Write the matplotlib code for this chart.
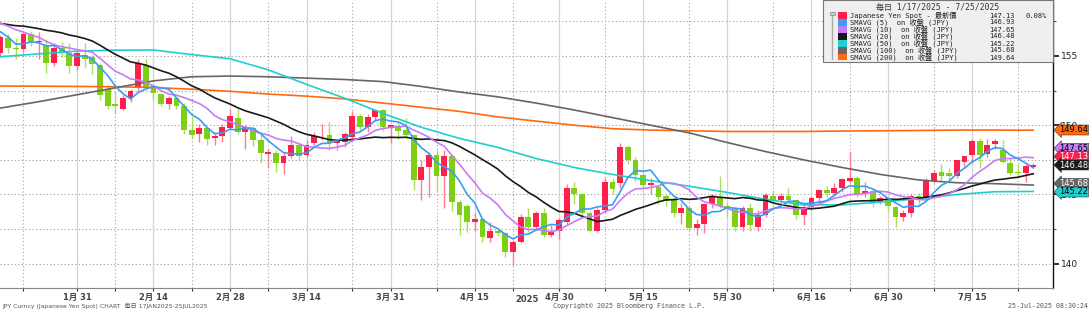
import numpy as np
import pandas as pd
import matplotlib
matplotlib.use('Agg')
import matplotlib.pyplot as plt
from matplotlib.patches import Rectangle

# ---------------- data ----------------
dates = pd.bdate_range('2025-01-17', '2025-07-25')

opens = [155.2, 156.3, 155.6, 155.5, 156.6, 156.0, 155.8, 154.5, 155.6, 155.2,
         154.3, 155.1, 154.9, 154.35, 152.6, 151.5, 151.2, 152.0, 152.7, 154.35,
         152.7, 152.25, 151.5, 152.0, 151.4, 149.65, 149.4, 149.8, 149.1, 149.2,
         149.8, 150.5, 149.5, 149.8, 148.95, 147.95, 148.0, 147.3, 147.8, 148.6,
         147.85, 148.7, 149.2, 149.3, 148.7, 148.8, 149.15, 150.7, 149.9, 150.6,
         151.1, 149.8, 149.95, 149.65, 149.3, 146.05, 147.0, 147.85, 146.3, 147.8,
         144.45, 144.2, 143.0, 143.2, 141.85, 142.4, 142.2, 140.85, 141.6, 143.4,
         142.65, 143.65, 142.1, 142.4, 143.0, 145.5, 145.0, 143.7, 142.4, 143.9,
         145.9, 145.8, 148.4, 147.5, 146.4, 145.7, 145.55, 144.9, 144.6, 143.7,
         144.05, 142.6, 142.9, 144.3, 144.75, 144.15, 144.0, 142.65, 144.0, 142.65,
         143.5, 144.9, 144.6, 144.9, 144.6, 143.5, 144.1, 144.75, 145.3, 145.1,
         145.45, 146.0, 146.2, 145.0, 145.25, 144.45, 144.6, 144.1, 143.4, 143.65,
         144.9, 144.75, 145.97, 146.6, 146.55, 146.3, 147.35, 147.85, 148.85, 147.9,
         148.64, 148.2, 147.3, 146.6, 146.55, 147.0]
highs = [156.5, 156.6, 156.3, 156.8, 156.8, 156.7, 156.2, 155.9, 156.0, 155.9,
         155.4, 155.9, 155.1, 154.5, 152.9, 152.4, 152.2, 152.6, 154.8, 154.8,
         153.0, 152.3, 152.1, 152.0, 151.6, 150.6, 150.1, 149.9, 149.5, 150.1,
         151.2, 151.2, 150.0, 149.9, 149.3, 148.3, 148.2, 148.1, 149.2, 148.8,
         148.9, 149.5, 150.1, 150.2, 149.0, 149.5, 151.0, 150.8, 150.8, 151.2,
         151.2, 150.0, 150.2, 150.5, 149.3, 147.5, 148.1, 148.2, 148.2, 147.9,
         144.6, 144.3, 143.65, 143.3, 143.0, 142.6, 142.3, 141.7, 143.6, 144.0,
         143.8, 144.0, 142.8, 143.3, 145.75, 145.9, 145.1, 143.8, 144.0, 146.2,
         146.2, 148.7, 148.6, 147.7, 146.6, 146.2, 145.7, 145.0, 144.8, 144.4,
         144.2, 143.2, 144.4, 145.0, 146.3, 144.4, 144.1, 144.2, 144.4, 143.9,
         145.1, 145.3, 145.1, 145.5, 144.7, 144.4, 144.9, 145.4, 145.6, 145.8,
         146.2, 148.1, 146.3, 145.9, 145.4, 144.9, 144.9, 144.2, 143.9, 145.0,
         145.1, 146.2, 146.8, 147.2, 146.9, 147.5, 147.8, 149.0, 149.1, 149.0,
         149.0, 148.9, 147.6, 147.2, 147.2, 147.3]
lows = [154.9, 155.2, 154.8, 155.3, 155.7, 154.8, 153.8, 154.3, 154.9, 153.8,
        154.0, 154.2, 153.7, 151.8, 151.2, 150.9, 151.1, 151.7, 152.4, 152.6,
        151.8, 151.4, 151.2, 151.2, 149.4, 149.1, 148.8, 148.6, 148.6, 148.8,
        149.7, 149.4, 148.3, 148.5, 147.3, 146.9, 146.6, 146.5, 147.6, 147.4,
        147.7, 148.5, 148.9, 148.2, 148.2, 148.4, 149.1, 149.6, 149.5, 150.3,
        149.6, 148.7, 149.0, 149.1, 145.3, 144.6, 144.8, 145.2, 144.0, 143.8,
        142.1, 142.3, 142.4, 141.6, 141.6, 142.0, 140.5, 139.9, 141.5, 142.3,
        142.5, 141.9, 141.9, 141.8, 142.9, 144.3, 143.5, 142.35, 142.3, 143.7,
        145.0, 145.5, 147.2, 146.0, 145.4, 145.0, 144.3, 144.2, 143.4, 142.9,
        142.4, 142.1, 142.2, 144.0, 144.0, 143.4, 142.4, 142.4, 142.4, 142.4,
        143.4, 144.3, 144.4, 144.5, 143.2, 142.8, 143.9, 144.4, 144.8, 144.9,
        145.2, 145.8, 144.8, 144.8, 144.1, 144.3, 143.8, 142.65, 143.1, 143.4,
        144.3, 144.6, 145.8, 146.0, 145.8, 146.2, 147.0, 147.3, 146.9, 147.7,
        148.3, 147.3, 146.4, 146.2, 145.9, 146.9]
closes = [156.4, 155.6, 155.5, 156.6, 156.0, 156.05, 154.5, 155.6, 155.2, 154.3,
          155.2, 154.8, 154.4, 152.2, 151.4, 151.4, 152.0, 152.5, 154.5, 152.7,
          152.3, 151.5, 152.0, 151.4, 149.65, 149.3, 149.8, 149.0, 149.2, 149.9,
          150.65, 149.5, 149.9, 148.95, 148.0, 148.05, 147.3, 147.8, 148.6, 147.8,
          148.57, 149.2, 149.25, 148.7, 148.9, 149.37, 150.7, 149.9, 150.6, 151.1,
          149.9, 150.0, 149.6, 149.3, 146.05, 147.0, 147.85, 146.3, 147.8, 144.45,
          143.5, 143.0, 143.2, 141.9, 142.4, 142.2, 140.85, 141.6, 143.4, 142.65,
          143.65, 142.1, 142.4, 143.15, 145.5, 145.0, 143.7, 142.4, 143.9, 145.9,
          145.4, 148.4, 147.5, 146.4, 145.7, 145.8, 144.8, 144.5, 143.7, 144.05,
          142.6, 142.9, 144.3, 144.9, 144.2, 144.0, 142.65, 144.0, 142.8, 143.5,
          144.95, 144.6, 144.9, 144.6, 143.5, 144.1, 144.75, 145.3, 145.1, 145.45,
          146.1, 146.2, 145.0, 145.25, 144.45, 144.75, 144.15, 143.4, 143.65, 144.9,
          144.6, 145.97, 146.55, 146.3, 146.3, 147.5, 147.8, 148.85, 147.85, 148.6,
          148.85, 147.37, 146.55, 146.55, 147.05, 147.13]
# closes of the 19 sessions before the chart start (needed for SMA 5/10/20)
pre_closes = [157.15, 157.17, 157.15, 157.85, 157.9, 156.9, 157.2, 157.3, 157.45, 157.3,
              157.65, 158.05, 158.3, 158.1, 157.75, 157.5, 158.0, 156.55, 155.25]

# long moving averages every 5 sessions
ma_sample_idx = list(range(0, 136, 5))
sma50 = [154.95, 155.15, 155.35, 155.42, 155.43, 155.1, 154.8, 154.0, 152.95, 151.95,
         150.85, 149.85, 149.05, 148.4, 147.6, 146.95, 146.45, 146.0, 145.6, 145.15,
         144.65, 144.25, 144.25, 144.45, 144.7, 145.0, 145.2, 145.22]
sma100 = [151.24, 151.7, 152.2, 152.7, 153.2, 153.5, 153.55, 153.5, 153.4, 153.3,
          153.15, 152.8, 152.4, 152.05, 151.6, 151.1, 150.55, 150.0, 149.45, 148.75,
          148.1, 147.5, 146.95, 146.45, 146.05, 145.85, 145.78, 145.68]
sma200 = [152.83, 152.82, 152.8, 152.78, 152.72, 152.6, 152.45, 152.25, 152.1, 151.9,
          151.6, 151.3, 151.0, 150.6, 150.3, 150.0, 149.75, 149.65, 149.6, 149.55,
          149.55, 149.55, 149.58, 149.6, 149.62, 149.65, 149.65, 149.64]

major_dates = ['2025-01-31', '2025-02-14', '2025-02-28', '2025-03-14', '2025-03-31',
               '2025-04-15', '2025-04-30', '2025-05-15', '2025-05-30', '2025-06-16',
               '2025-06-30', '2025-07-15']
major_labels = ['1月 31', '2月 14', '2月 28', '3月 14', '3月 31', '4月 15',
                '4月 30', '5月 15', '5月 30', '6月 16', '6月 30', '7月 15']
minor_dates = ['2025-01-22', '2025-02-07', '2025-02-21', '2025-03-07', '2025-03-24',
               '2025-04-08', '2025-04-22', '2025-05-08', '2025-05-23', '2025-06-09',
               '2025-06-23', '2025-07-08', '2025-07-23']

legend_names = ['Japanese Yen Spot - 最新價', 'SMAVG (5)  on 收盤 (JPY)',
                'SMAVG (10)  on 收盤 (JPY)', 'SMAVG (20)  on 收盤 (JPY)',
                'SMAVG (50)  on 收盤 (JPY)', 'SMAVG (100)  on 收盤 (JPY)',
                'SMAVG (200)  on 收盤 (JPY)']
legend_values = ['147.13', '146.93', '147.65', '146.48', '145.22', '145.68', '149.64']

# ---------------- styling ----------------
UP = '#ff1f4b'
DOWN = '#7fcf14'
UP_WICK = '#ff7a95'
DOWN_WICK = '#a9df5c'
C5, C10, C20, C50, C100, C200 = '#3a9cf5', '#c77cf7', '#1a1a1a', '#1fcfd0', '#666666', '#ff6a10'
FONTS = ['DejaVu Sans', 'Noto Sans CJK JP']
MONO = ['DejaVu Sans Mono', 'Noto Sans CJK JP']

W, H = 1090, 311
fig = plt.figure(figsize=(W / 100, H / 100), dpi=100)
ax = fig.add_axes([0, 23 / H, 1053 / W, 288 / H])

n = len(closes)
x = np.arange(n)
o = np.array(opens); c = np.array(closes); hi = np.array(highs); lo = np.array(lows)
up = c >= o

# grid
for lvl in np.arange(140, 159, 2.5):
    ax.axhline(lvl, color='#9a9a9a', lw=0.8, ls=(0, (1, 2.2)), zorder=0)
pos = {d: i for i, d in enumerate(dates.strftime('%Y-%m-%d'))}
maj_x = [pos[d] for d in major_dates]
min_x = [pos[d] for d in minor_dates]
for xv in maj_x:
    ax.axvline(xv, color='#d4d4d4', lw=0.9, zorder=0)
for xv in min_x:
    ax.axvline(xv, color='#a0a0a0', lw=0.8, ls=(0, (1, 2.2)), zorder=0)

# candles
for i in range(n):
    col_w = UP_WICK if up[i] else DOWN_WICK
    ax.vlines(x[i], lo[i], hi[i], color=col_w, lw=1.0, zorder=2)
body_lo = np.minimum(o, c)
body_h = np.maximum(np.abs(c - o), 0.05)
ax.bar(x, body_h, bottom=body_lo, width=0.76,
       color=[UP if u else DOWN for u in up], linewidth=0, zorder=3)

# moving averages
allc = np.array(pre_closes + closes)
def sma(k):
    off = len(pre_closes)
    return np.array([allc[off + i - k + 1: off + i + 1].mean() for i in range(n)])

ax.plot(ma_sample_idx, sma200, color=C200, lw=1.2, zorder=4)
ax.plot(ma_sample_idx, sma100, color=C100, lw=1.2, zorder=4)
ax.plot(ma_sample_idx, sma50, color=C50, lw=1.2, zorder=4)
ax.plot(x, sma(20), color=C20, lw=1.2, zorder=5)
ax.plot(x, sma(10), color=C10, lw=1.2, zorder=5)
ax.plot(x, sma(5), color=C5, lw=1.2, zorder=6)

# axes
ax.set_xlim(-0.065, 137.58)
ax.set_ylim(138.25, 159.04)
for s in ['left', 'top']:
    ax.spines[s].set_visible(False)
ax.spines['right'].set_color('#111111')
ax.spines['right'].set_linewidth(1.0)
ax.spines['bottom'].set_color('#888888')
ax.spines['bottom'].set_linewidth(0.8)

ax.yaxis.tick_right()
ax.set_yticks([140, 145, 150, 155])
ax.set_yticks(np.arange(140, 159, 2.5), minor=True)
ax.tick_params(axis='y', which='major', length=4, width=1.2, color='#111111',
               labelsize=6.5, labelcolor='#222222', pad=2)
ax.tick_params(axis='y', which='minor', length=2, width=0.8, color='#555555')
for t in ax.get_yticklabels():
    t.set_fontfamily(FONTS)

ax.set_xticks(maj_x)
ax.set_xticklabels(major_labels, fontsize=6, fontweight='bold', color='#444444')
for t in ax.get_xticklabels():
    t.set_fontfamily(FONTS)
ax.set_xticks(min_x, minor=True)
ax.tick_params(axis='x', which='both', length=2, width=0.8, color='#333333', pad=1.5)

# year label
fig.text(527 / W, 1 - 300 / H, '2025', fontsize=6, fontweight='bold', color='#444444',
         ha='center', va='center', family=FONTS)

# price tags on right axis
tags = [('149.64', C200, 'black', 130), ('147.65', C10, 'black', 148.3),
        ('147.13', UP, 'white', 156.5), ('146.48', C20, 'white', 165),
        ('145.68', C100, 'white', 183.5), ('145.22', C50, 'black', 192)]
for txt, fc, tc, ypx in tags:
    fig.text(1059 / W, 1 - ypx / H, txt, fontsize=6.0, color=tc, ha='left', va='center',
             family=FONTS,
             bbox=dict(boxstyle='larrow,pad=0.06', fc=fc, ec='#333333', lw=0.4),
             zorder=10)

# legend box
fig.add_artist(Rectangle((823 / W, 1 - 62 / H), 230 / W, 62 / H, transform=fig.transFigure,
                         facecolor='#efefef', edgecolor='#777777', lw=0.8, zorder=8))
fig.text(938 / W, 1 - 7 / H, '毎日 1/17/2025 - 7/25/2025', fontsize=5.8, color='#333333',
         ha='center', va='center', family=MONO, zorder=9)
fig.add_artist(plt.Line2D([832 / W, 832 / W], [1 - 12 / H, 1 - 59 / H],
                          transform=fig.transFigure, color='#aaaaaa', lw=1.0, zorder=9))
fig.add_artist(Rectangle((829.5 / W, 1 - 15 / H), 5 / W, 3 / H, transform=fig.transFigure,
                         facecolor='#cccccc', edgecolor='#888888', lw=0.5, zorder=9))
leg_cols = [UP, C5, C10, C20, C50, C100, C200]
for k in range(7):
    ypx = 15.5 + 7.0 * k
    fig.add_artist(Rectangle((838 / W, 1 - (ypx + 3) / H), 9 / W, 6 / H,
                             transform=fig.transFigure, facecolor=leg_cols[k],
                             edgecolor='none', zorder=9))
    fig.text(850 / W, 1 - ypx / H, legend_names[k], fontsize=5.1, color='#222222',
             ha='left', va='center', family=MONO, zorder=9)
    fig.text(1015 / W, 1 - ypx / H, legend_values[k], fontsize=5.1, color='#222222',
             ha='right', va='center', family=MONO, zorder=9)
fig.text(1047 / W, 1 - 15.5 / H, '0.08%', fontsize=5.1, color='#222222',
         ha='right', va='center', family=MONO, zorder=9)

# footer
fig.text(2 / W, 1 - 306 / H, 'JPY Curncy (Japanese Yen Spot) CHART  毎日 17JAN2025-25JUL2025',
         fontsize=4.4, color='#555555', ha='left', va='center', family=FONTS)
fig.text(553 / W, 1 - 306 / H, 'Copyright© 2025 Bloomberg Finance L.P.',
         fontsize=4.8, color='#555555', ha='left', va='center', family=MONO)
fig.text(1088 / W, 1 - 306 / H, '25-Jul-2025 08:30:24',
         fontsize=4.8, color='#555555', ha='right', va='center', family=MONO)

fig.savefig('out.png', dpi=100)
